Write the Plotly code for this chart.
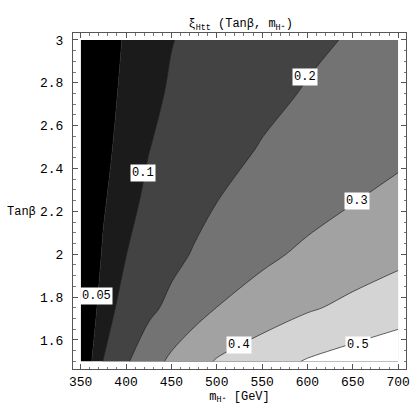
"""Contour plot of xi_Htt(Tan beta, m_H+) in Mathematica grey style."""

import plotly.graph_objects as go

# charged Higgs mass grid [GeV]
mass_gev = [350, 375, 400, 425, 450, 475, 500, 550, 600, 650, 700]
# tan beta grid
tan_beta = [1.5, 1.75, 2.0, 2.25, 2.5, 2.75, 3.0]

# xi_Htt, one row per tan beta value
xi_t150 = [0, 0.103, 0.189, 0.259, 0.318, 0.365, 0.407, 0.459, 0.507, 0.539, 0.570]
xi_t175 = [0, 0.070, 0.127, 0.179, 0.223, 0.263, 0.301, 0.345, 0.389, 0.423, 0.453]
xi_t200 = [0, 0.055, 0.099, 0.137, 0.174, 0.207, 0.231, 0.280, 0.318, 0.347, 0.377]
xi_t225 = [0, 0.045, 0.081, 0.113, 0.142, 0.171, 0.199, 0.232, 0.265, 0.297, 0.323]
xi_t250 = [0, 0.037, 0.069, 0.098, 0.121, 0.143, 0.165, 0.205, 0.230, 0.255, 0.279]
xi_t275 = [0, 0.032, 0.061, 0.085, 0.107, 0.124, 0.141, 0.176, 0.207, 0.229, 0.252]
xi_t300 = [0, 0.028, 0.055, 0.076, 0.098, 0.112, 0.126, 0.154, 0.182, 0.208, 0.230]

levels = [0.05, 0.1, 0.2, 0.3, 0.4, 0.5]
level_labels = ["0.05", "0.1", "0.2", "0.3", "0.4", "0.5"]
label_mass = [367.7, 418.3, 597.8, 654.6, 524.9, 656.0]
label_tanb = [1.805, 2.379, 2.827, 2.250, 1.578, 1.578]

# grey of the region below the first level, then above each level
base_grey = "#000000"
band_greys = ["#1b1b1b", "#434343", "#737373", "#a2a2a2", "#d4d4d4", "#ffffff"]

xi = [xi_t150, xi_t175, xi_t200, xi_t225, xi_t250, xi_t275, xi_t300]

FONT = "Liberation Mono, Courier New, monospace"

fig = go.Figure()

# plotly shades the infeasible side of a constraint contour:
# ">=" level shades z < level, "<" level shades z >= level
fig.add_trace(go.Contour(
    x=mass_gev, y=tan_beta, z=xi,
    contours=dict(type="constraint", operation=">=", value=levels[0]),
    fillcolor=base_grey,
    line=dict(width=0),
    showscale=False,
    hoverinfo="skip",
))

for lev, grey in zip(levels, band_greys):
    fig.add_trace(go.Contour(
        x=mass_gev, y=tan_beta, z=xi,
        contours=dict(type="constraint", operation="<", value=lev),
        fillcolor=grey,
        line=dict(color="#222222", width=0.7),
        showscale=False,
        hoverinfo="skip",
    ))

for txt, m, t in zip(level_labels, label_mass, label_tanb):
    fig.add_annotation(
        x=m, y=t, text=txt, showarrow=False,
        bgcolor="white", borderpad=1,
        font=dict(family=FONT, size=12, color="black"),
    )

fig.add_annotation(
    x=-0.104, y=0.467, xref="paper", yref="paper",
    xanchor="right", yanchor="middle",
    text="Tanβ", showarrow=False,
    font=dict(family=FONT, size=12, color="black"),
)

axis_common = dict(
    showgrid=False, zeroline=False,
    showline=True, linecolor="#555555", linewidth=1, mirror="allticks",
    ticks="inside", ticklen=5, tickcolor="#555555",
    tickfont=dict(family=FONT, size=13, color="black"),
)

fig.update_xaxes(
    range=[341.5, 708.7], dtick=50, tick0=0,
    minor=dict(dtick=10, ticks="inside", ticklen=2.5, tickcolor="#777777"),
    title=dict(text="m<sub>H⁺</sub> [GeV]", standoff=0,
               font=dict(family=FONT, size=12, color="black")),
    **axis_common,
)
fig.update_yaxes(
    range=[1.4646, 3.0326], dtick=0.2, tick0=0,
    minor=dict(dtick=0.05, ticks="inside", ticklen=2.5, tickcolor="#777777"),
    ticklabelstandoff=6,
    **axis_common,
)

fig.update_layout(
    width=415, height=415,
    margin=dict(l=73, r=5, t=33, b=46),
    plot_bgcolor="white", paper_bgcolor="white",
    title=dict(
        text="ξ<sub>Htt</sub> (Tanβ, m<sub>H⁺</sub>)",
        x=0.58, xanchor="center", y=0.945, yanchor="middle",
        font=dict(family=FONT, size=12, color="black"),
    ),
    showlegend=False,
)

# drop the default 8px page margin so the 415px figure fills the window
fig.write_html(
    "out.html",
    config={"displayModeBar": False},
    post_script="document.body.style.margin='0';",
)
